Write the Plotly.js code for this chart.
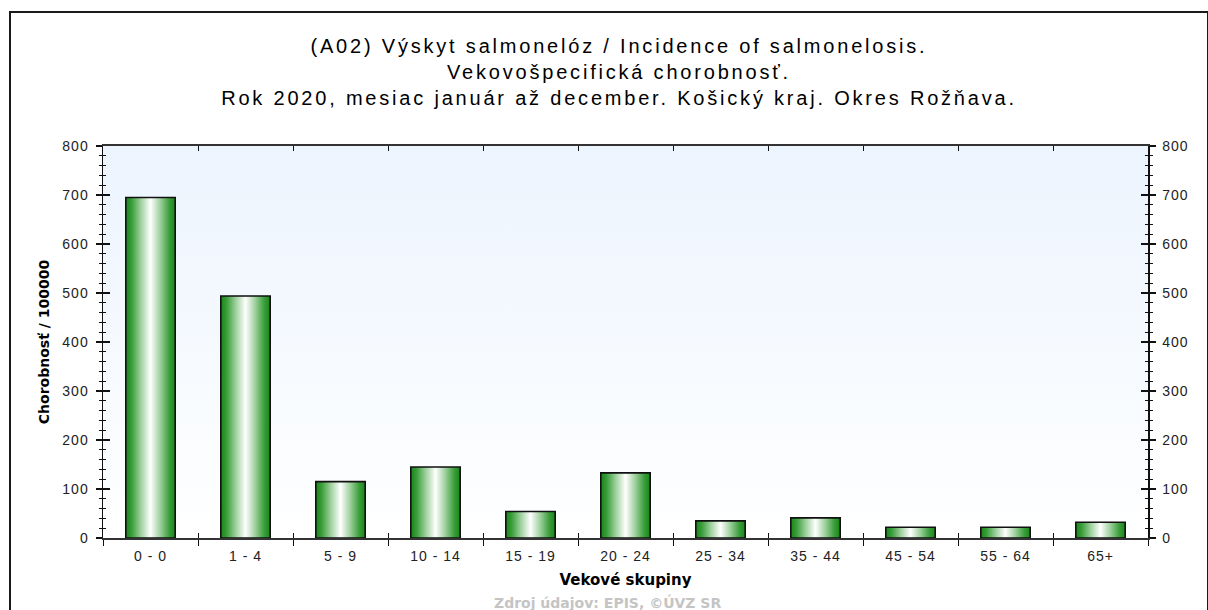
<!DOCTYPE html>
<html>
<head>
<meta charset="utf-8">
<script src="https://cdn.plot.ly/plotly-3.0.1.min.js"></script>
<style>
  html, body { margin: 0; padding: 0; background: #ffffff; }
  #chart { position: absolute; left: 0; top: 0; width: 1208px; height: 610px; }
  #frame { position: absolute; left: 9px; top: 11px; width: 1196px; height: 640px;
           border: 2px solid #1a1a1a; pointer-events: none; }
  #chart .gtitle { letter-spacing: 2.8px; }
  #chart .xtick text, #chart .ytick text, #chart .y2tick text { letter-spacing: 1px; }
</style>
</head>
<body>
<div id="chart"></div>
<div id="frame"></div>
<script>
// ---- data ----
const categories = ["0 - 0", "1 - 4", "5 - 9", "10 - 14", "15 - 19", "20 - 24",
                    "25 - 34", "35 - 44", "45 - 54", "55 - 64", "65+"];
const incidence = [695, 494, 115, 145, 54, 133, 35, 41, 22, 22, 32];
const yTickVals = [0, 100, 200, 300, 400, 500, 600, 700, 800];

const titleText = "(A02) Výskyt salmonelóz / Incidence of salmonelosis.<br>" +
                  "Vekovošpecifická chorobnosť.<br>" +
                  "Rok 2020, mesiac január až december. Košický kraj. Okres Rožňava.";
const yTitle = "Chorobnosť / 100000";
const xTitle = "Vekové skupiny";
const sourceText = "Zdroj údajov: EPIS, ©ÚVZ SR";

// ---- traces ----
const barWidth = 0.52;
const traces = [];
// invisible category bar trace to build the category axis
traces.push({
  type: "bar", x: categories, y: incidence, xaxis: "x", yaxis: "y",
  marker: { color: "rgba(0,0,0,0)" }, width: barWidth, hoverinfo: "x+y",
  showlegend: false
});
// gradient bars drawn on the overlaid linear axis
const gradScale = [[0, "#188518"], [0.12, "#3a9e3a"], [0.3, "#9ccf9c"],
                   [0.5, "#ffffff"], [0.7, "#9ccf9c"], [0.88, "#3a9e3a"], [1, "#188518"]];
categories.forEach((c, i) => {
  const v = incidence[i];
  const x0 = i - barWidth / 2, x1 = i + barWidth / 2;
  traces.push({
    type: "scatter", mode: "lines", xaxis: "x2", yaxis: "y",
    x: [x0, x0, x1, x1, x0], y: [0, v, v, 0, 0],
    fill: "toself",
    fillgradient: { type: "horizontal", colorscale: gradScale },
    line: { color: "#111111", width: 1.6 },
    hoverinfo: "skip", showlegend: false
  });
});
// helper traces so overlay axes exist
["y2", "y3", "y4"].forEach(ax => {
  traces.push({ type: "scatter", mode: "markers", x: [0], y: [0], xaxis: "x2", yaxis: ax,
                marker: { opacity: 0 }, hoverinfo: "skip", showlegend: false });
});

const tickFont = { family: "Liberation Sans, Arial, sans-serif", size: 14, color: "#222222" };
const yRange = [0, 800];
const n = categories.length;
const boundaries = [];
for (let i = 0; i <= n; i++) boundaries.push(i - 0.5);

const bgSvg = "<svg xmlns='http://www.w3.org/2000/svg' width='10' height='100' preserveAspectRatio='none'>" +
  "<defs><linearGradient id='g' x1='0' y1='0' x2='0' y2='1'>" +
  "<stop offset='0' stop-color='#ecf4fe'/><stop offset='1' stop-color='#ffffff'/>" +
  "</linearGradient></defs><rect width='10' height='100' fill='url(#g)'/></svg>";

const layout = {
  width: 1208, height: 610,
  margin: { l: 103, r: 60, t: 146, b: 72 },
  paper_bgcolor: "rgba(0,0,0,0)",
  plot_bgcolor: "rgba(0,0,0,0)",
  showlegend: false,
  title: {
    text: titleText, x: 0.5124, xanchor: "center", xref: "container",
    y: 0.913, yanchor: "middle", yref: "container",
    font: { family: "Liberation Sans, Arial, sans-serif", size: 20, color: "#000000" }
  },
  xaxis: {
    type: "category", range: [-0.5, n - 0.5], fixedrange: true,
    showline: true, linecolor: "#333333", linewidth: 2, mirror: true,
    ticks: "outside", ticklen: 6, tickwidth: 1, tickcolor: "#111111",
    tickson: "boundaries", showgrid: false, zeroline: false,
    tickfont: tickFont, ticklabelstandoff: 4,
    title: { text: xTitle, standoff: 12,
             font: { family: "DejaVu Sans, Verdana, sans-serif", size: 15, color: "#000000", weight: "bold" } }
  },
  xaxis2: {
    overlaying: "x", type: "linear", range: [-0.5, n - 0.5], fixedrange: true,
    tickmode: "array", tickvals: boundaries, showticklabels: false,
    ticks: "inside", ticklen: 5, tickwidth: 1, tickcolor: "#111111",
    mirror: "ticks", showline: false, showgrid: false, zeroline: false, side: "bottom"
  },
  yaxis: {
    range: yRange, fixedrange: true, tickmode: "array", tickvals: yTickVals,
    showline: true, linecolor: "#111111", linewidth: 1.5,
    ticks: "outside", ticklen: 6, tickwidth: 1.3, tickcolor: "#111111",
    minor: { dtick: 20, ticks: "outside", ticklen: 3, tickwidth: 1.3, tickcolor: "#111111", showgrid: false },
    showgrid: false, zeroline: false, tickfont: tickFont, ticklabelstandoff: 4,
    title: { text: yTitle, standoff: 12,
             font: { family: "DejaVu Sans, Verdana, sans-serif", size: 14, color: "#000000", weight: "bold" } }
  },
  yaxis3: {
    overlaying: "y", side: "left", range: yRange, fixedrange: true,
    tickmode: "array", tickvals: yTickVals, showticklabels: false,
    ticks: "inside", ticklen: 7, tickwidth: 1.3, tickcolor: "#111111",
    minor: { dtick: 20, ticks: "inside", ticklen: 3, tickwidth: 1.3, tickcolor: "#111111", showgrid: false },
    showline: false, showgrid: false, zeroline: false
  },
  yaxis2: {
    overlaying: "y", side: "right", range: yRange, fixedrange: true,
    tickmode: "array", tickvals: yTickVals,
    showline: true, linecolor: "#111111", linewidth: 1.5,
    ticks: "outside", ticklen: 6, tickwidth: 1.3, tickcolor: "#111111",
    minor: { dtick: 20, ticks: "outside", ticklen: 3, tickwidth: 1.3, tickcolor: "#111111", showgrid: false },
    showgrid: false, zeroline: false, tickfont: tickFont, ticklabelstandoff: 4
  },
  yaxis4: {
    overlaying: "y", side: "right", range: yRange, fixedrange: true,
    tickmode: "array", tickvals: yTickVals, showticklabels: false,
    ticks: "inside", ticklen: 7, tickwidth: 1.3, tickcolor: "#111111",
    minor: { dtick: 20, ticks: "inside", ticklen: 3, tickwidth: 1.3, tickcolor: "#111111", showgrid: false },
    showline: false, showgrid: false, zeroline: false
  },
  images: [{
    source: "data:image/svg+xml;charset=utf-8," + encodeURIComponent(bgSvg),
    xref: "paper", yref: "paper", x: 0, y: 1, sizex: 1, sizey: 1,
    sizing: "stretch", xanchor: "left", yanchor: "top", layer: "below"
  }],
  annotations: [{
    text: sourceText, xref: "paper", yref: "paper", x: 0.483, y: -0.138,
    xanchor: "center", yanchor: "top", showarrow: false,
    font: { family: "DejaVu Sans, Verdana, sans-serif", size: 14, color: "#c4c4c4", weight: "bold" }
  }]
};

Plotly.newPlot("chart", traces, layout, { displayModeBar: false, staticPlot: true });
</script>
</body>
</html>
